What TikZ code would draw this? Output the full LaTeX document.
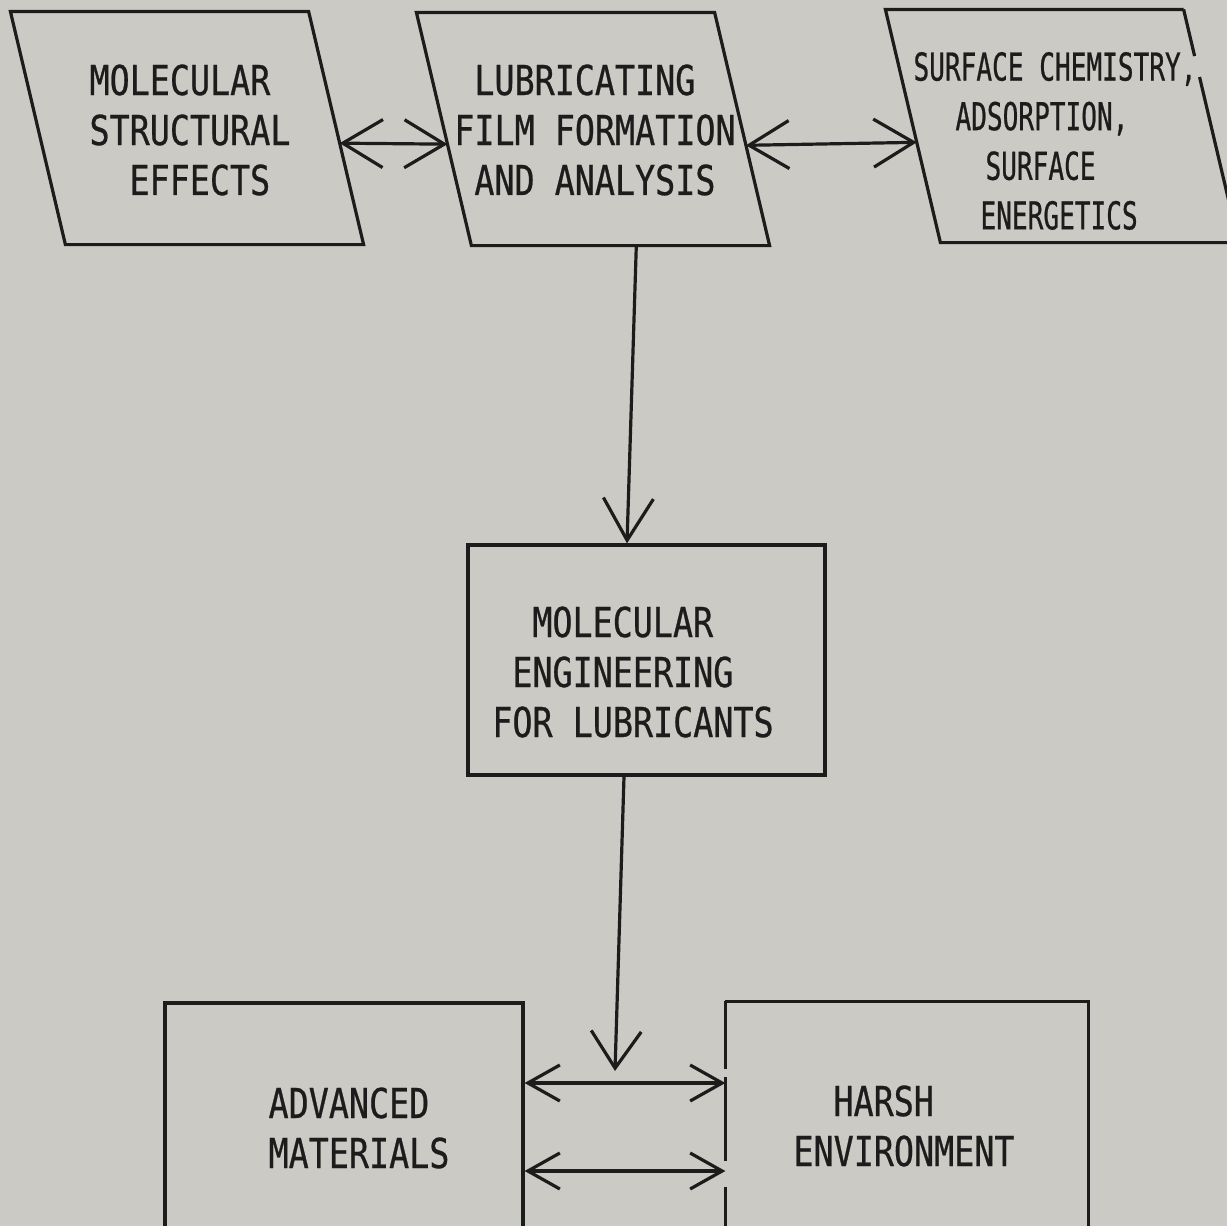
\documentclass[tikz,border=0pt]{standalone}
\usepackage{fontspec}
\usepackage{tikz}
\usetikzlibrary{arrows.meta,positioning,calc}
\definecolor{paper}{HTML}{CCCAC4}
\definecolor{ink}{HTML}{1C1C1C}
\newfontfamily\plotfont[FakeStretch=0.81,FakeBold=0.6]{DejaVu Sans Mono}
\newfontfamily\narrowfont[FakeStretch=0.68,FakeBold=0.6]{DejaVu Sans Mono}

\begin{document}
\begin{tikzpicture}[x=0.5pt, y=-0.5pt, line width=1.6pt, color=ink,
    >={Straight Barb[length=20pt,width=24pt]},
    every label/.style={align=left, font=\plotfont\fontsize{20.6pt}{25pt}\selectfont},
    slantbox/.style={rectangle, minimum width=147.5pt, minimum height=115pt, inner sep=0pt},
    block/.style={rectangle, inner sep=0pt}]
\useasboundingbox (0,0) rectangle (1227,1226);
\fill[paper] (0,0) rectangle (1227,1226);

% top row
\node[slantbox, label={[shift={(3,2)}]center:MOLECULAR\\STRUCTURAL\\\hspace*{20pt}EFFECTS}] (p1) at (187,128) {};
\node[slantbox, label={[shift={(2,1)}]center:\hspace*{10pt}LUBRICATING\\FILM FORMATION\\\hspace*{10pt}AND ANALYSIS}] (p2) at (593,129) {};
\node[slantbox, label={[shift={(-7,15)}, font=\narrowfont\fontsize{19.2pt}{24.8pt}\selectfont]center:SURFACE CHEMISTRY,\\\hspace*{21pt}ADSORPTION,\\\hspace*{36pt}SURFACE\\\hspace*{33.5pt}ENERGETICS}] (p3) at (1062,126) {};

% parallelogram corners
\foreach \b in {p1,p2,p3}
  \path ([xshift=-13.75pt]\b.north west) coordinate (\b-tl) ([xshift=-13.75pt]\b.north east) coordinate (\b-tr)
        ([xshift=13.75pt]\b.south east) coordinate (\b-br) ([xshift=13.75pt]\b.south west) coordinate (\b-bl);
\foreach \b in {p1,p2}
  \draw (\b-tl) -- (\b-tr) -- (\b-br) -- (\b-bl) -- cycle;
\draw (p3-tr) -- (p3-tl) -- (p3-bl) -- (p3-br) -- ($(p3-br)!0.71!(p3-tr)$);
\draw (p3-tr) -- ($(p3-tr)!0.2!(p3-br)$);

\draw[<->] ($(p1-tr)!0.565!(p1-br)$) -- ($(p2-tl)!0.565!(p2-bl)$);
\draw[<->] ($(p2-tr)!0.57!(p2-br)$) -- ($(p3-tl)!0.57!(p3-bl)$);

% middle
\node[block, draw, minimum width=178.5pt, minimum height=115pt,
    label={[shift={(-13.5,12)}]center:\hspace*{20pt}MOLECULAR\\\hspace*{10pt}ENGINEERING\\FOR LUBRICANTS}] (mel) at (646.5,660) {};
\draw[->, >={Straight Barb[length=21pt,width=25pt]}] ($(p2-bl)!0.553!(p2-br)$) -- ([xshift=-9.75pt]mel.north);

% bottom row
\node[block, draw, minimum width=179pt, minimum height=125pt,
    label={[shift={(15,0)}]center:ADVANCED\\MATERIALS}] (am) at (344,1128) {};
\node[block, minimum width=180pt, minimum height=125pt,
    label={[shift={(-3,-2)}]center:\hspace*{20pt}HARSH\\ENVIRONMENT}] (hb) at (907,1128) {};
\draw (hb.north west) -- (hb.north east) -- (hb.south east);
\draw[dash pattern=on 34pt off 4pt on 42pt off 13pt on 100pt] (hb.north west) -- (hb.south west);

\coordinate (mtip) at (615,1071);
\draw[->, >={Straight Barb[length=18.5pt,width=25pt]}] ([xshift=-11.25pt]mel.south) -- (mtip);

\path ([yshift=22.5pt]am.east) coordinate (am1) ([yshift=-21.5pt]am.east) coordinate (am2);
\draw[<->, >={Straight Barb[length=16pt,width=18pt]}] (am1) -- (am1 -| hb.west);
\draw[<->, >={Straight Barb[length=16pt,width=18pt]}] (am2) -- (am2 -| hb.west);
\end{tikzpicture}
\end{document}
